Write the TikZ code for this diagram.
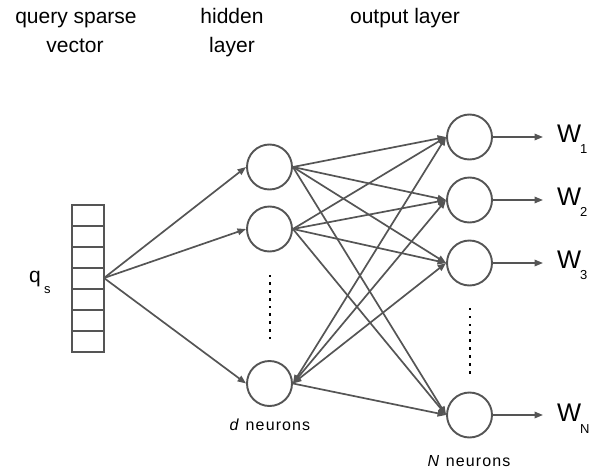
\documentclass[tikz,border=0pt]{standalone}
\usepackage{fontspec}
\setmainfont{Liberation Sans}
\usetikzlibrary{arrows.meta}
\definecolor{lc}{HTML}{555555}
\begin{document}
\begin{tikzpicture}[x=1pt,y=-1pt,
  neuron/.style={circle,draw=lc,line width=1.9pt,minimum size=45pt,inner sep=0pt},
  conn/.style={draw=lc,line width=1.7pt,-{Triangle[length=8.5pt,width=6.5pt]}},
  hdr/.style={anchor=base,font=\fontsize{21}{25}\selectfont,inner sep=0pt},
  cell/.style={draw=lc,line width=1.4pt,minimum width=31pt,minimum height=21pt,inner sep=0pt},
  wlab/.style={anchor=base west,inner sep=0pt,font=\fontsize{25.5}{28}\selectfont},
  wsub/.style={anchor=base west,inner sep=0pt,font=\fontsize{13}{15}\selectfont},
  cnt/.style={anchor=base,inner sep=0pt,font=\fontsize{16}{19}\selectfont\addfontfeatures{LetterSpace=7}},
  dotm/.style={fill=black,minimum size=2.6pt,inner sep=0pt}]
\useasboundingbox (0,0) rectangle (606,469);
% headers
\node[hdr] (h1a) at (76,23) {query sparse};
\node[hdr] (h1b) at (75,52) {vector};
\node[hdr] (h2a) at (232,23) {hidden};
\node[hdr] (h2b) at (232,52) {layer};
\node[hdr] (h3a) at (405,23) {output layer};
% vector
\foreach \i in {0,...,6} {
  \node[cell] (c\i) at (88,{215.5+21*\i}) {};
}
\draw[lc,line width=2.2pt] (72,205) rectangle (104,352);
\coordinate (vs) at (104,278);
\node[anchor=base west,inner sep=0pt,font=\fontsize{21}{24}\selectfont] (q) at (29,282) {q};
\node[wsub] (qs) at (44,293) {s};
% hidden
\node[neuron] (n1) at (269.5,167) {};
\node[neuron] (n2) at (269.5,229) {};
\node[neuron] (n3) at (269.5,383.5) {};
% output
\node[neuron] (o1) at (469.5,137) {};
\node[neuron] (o2) at (469.5,200) {};
\node[neuron] (o3) at (469.5,263) {};
\node[neuron] (o4) at (469.5,415) {};
% dots
\foreach \k in {0,...,8} {
  \node[dotm] (hd\k) at (270,{276+7.75*\k}) {};
  \node[dotm] (od\k) at (470,{309+7.9*\k}) {};
}
% input arrows
\foreach \n in {n1,n2,n3} \draw[conn] (vs) -- (\n.west);
% hidden to output
\foreach \h in {n1,n2} \foreach \o in {o1,o2,o3,o4} \draw[conn] (\h.east) -- (\o.west);
\foreach \o in {o1,o2,o3} \draw[conn,{Triangle[length=8.5pt,width=6.5pt]}-{Triangle[length=8.5pt,width=6.5pt]}] (n3.east) -- (\o.west);
\draw[conn] (n3.east) -- (o4.west);
% outputs
\coordinate (e1) at (543,137);
\coordinate (e2) at (543,200);
\coordinate (e3) at (543,263);
\coordinate (e4) at (543,415);
\draw[conn] (o1.east) -- (e1);
\draw[conn] (o2.east) -- (e2);
\draw[conn] (o3.east) -- (e3);
\draw[conn] (o4.east) -- (e4);
\node[wlab] (w1) at (557,142) {W};
\node[wsub] (w1s) at (580,153) {1};
\node[wlab] (w2) at (557,205) {W};
\node[wsub] (w2s) at (580,216) {2};
\node[wlab] (w3) at (557,268) {W};
\node[wsub] (w3s) at (580,279) {3};
\node[wlab] (w4) at (557,421) {W};
\node[wsub] (w4s) at (580,433) {N};
% neuron counts
\node[cnt] (dn) at (270,430) {\textit{d} neurons};
\node[cnt] (nn) at (469,466) {\textit{N} neurons};
\end{tikzpicture}
\end{document}
